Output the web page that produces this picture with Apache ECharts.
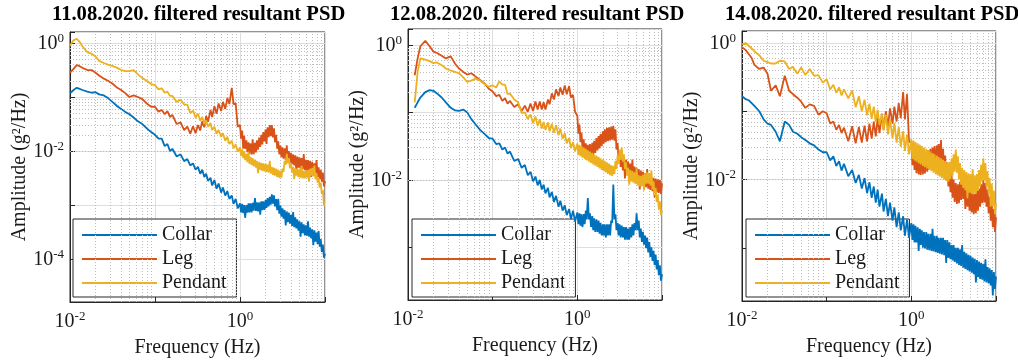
<!DOCTYPE html>
<html>
<head>
<meta charset="utf-8">
<title>filtered resultant PSD</title>
<script src="https://cdn.jsdelivr.net/npm/echarts@6/dist/echarts.min.js"></script>
<style>
	html, body { margin: 0; padding: 0; background: #fff; }
	#psdCharts { width: 1018px; height: 361px; }
</style>
</head>
<body>
<div id="psdCharts"></div>
<script>
// frequency grid (Hz), shared by the three panels; denser above 1 Hz where the spectra are noisy
var freqHz = [
	0.010, 0.011, 0.012, 0.013, 0.014, 0.016, 0.018, 0.020, 0.022, 0.025, 0.028, 0.032, 0.036, 0.040, 0.045, 0.050, 0.056, 0.063, 0.071, 0.080, 0.090,
	0.10, 0.11, 0.12, 0.13, 0.14, 0.15, 0.16, 0.18, 0.20, 0.22, 0.24, 0.26, 0.28, 0.30, 0.32, 0.34, 0.36, 0.38, 0.40, 0.42, 0.45, 0.47, 0.50, 0.53, 0.56, 0.60, 0.63, 0.67, 0.71, 0.75, 0.80, 0.84, 0.89, 0.94,
	1.0, 1.03, 1.06, 1.09, 1.12, 1.15, 1.19, 1.22, 1.26, 1.29, 1.33, 1.37, 1.41, 1.45, 1.5, 1.54, 1.58, 1.63, 1.68, 1.73, 1.78, 1.83, 1.88, 1.94, 2.0, 2.05, 2.11, 2.17, 2.24, 2.3,
	2.37, 2.44, 2.51, 2.58, 2.66, 2.74, 2.82, 2.9, 2.99, 3.07, 3.16, 3.25, 3.35, 3.45, 3.55, 3.65, 3.76, 3.87, 3.98, 4.1, 4.22, 4.34, 4.47, 4.6, 4.73, 4.87, 5.01, 5.16, 5.31, 5.46,
	5.62, 5.79, 5.96, 6.13, 6.31, 6.49, 6.68, 6.88, 7.08, 7.29, 7.5, 7.72, 7.94, 8.18, 8.41, 8.66, 8.91, 9.17, 9.44, 9.72, 10
];

// 11.08.2020 amplitude (g^2/Hz)
var p1Collar = [
	0.117, 0.135, 0.148, 0.141, 0.135, 0.126, 0.12, 0.123, 0.112, 0.107, 0.0955, 0.0794, 0.0676, 0.0603, 0.0525, 0.0479, 0.0417, 0.0355, 0.0316, 0.0263, 0.0224,
	0.02, 0.017, 0.017, 0.0123, 0.0135, 0.01, 0.011, 0.0079, 0.0087, 0.0065, 0.0071, 0.0054, 0.0059, 0.0045, 0.0051, 0.0038, 0.0045, 0.0033, 0.0038, 0.0028, 0.0032, 0.0023, 0.0029, 0.002, 0.0025, 0.0017, 0.0021, 0.0015, 0.0018, 0.0013, 0.0015, 0.00105, 0.0013, 0.00087,
	0.00107, 0.00073, 0.00105, 0.00071, 0.001, 0.00058, 0.001, 0.00072, 0.00107, 0.00073, 0.00107, 0.00073, 0.0011, 0.00079, 0.00135, 0.00078, 0.00112, 0.00076, 0.00112, 0.00066,
	0.00117, 0.0008, 0.00117, 0.00081, 0.00123, 0.00088, 0.00135, 0.00094, 0.00141, 0.00102, 0.00158, 0.00106, 0.00151, 0.00094, 0.00129, 0.0008, 0.0013, 0.00069, 0.00098, 0.00061,
	0.00087, 0.00056, 0.00081, 0.00042, 0.00076, 0.00048, 0.00072, 0.00045, 0.00066, 0.00041, 0.00074, 0.00039, 0.00059, 0.00037, 0.00054, 0.000335, 0.0005, 0.00026, 0.00048, 0.0003,
	0.00044, 0.000275, 0.00042, 0.00027, 0.0005, 0.00026, 0.00038, 0.00024, 0.000355, 0.00018, 0.00034, 0.00021, 0.00031, 0.00019, 0.00033, 0.00017, 0.000235, 0.000135, 0.000186, 0.000106, 0.000126
];
var p1Leg = [
	0.282, 0.331, 0.389, 0.372, 0.347, 0.316, 0.316, 0.282, 0.251, 0.219, 0.2, 0.174, 0.148, 0.135, 0.117, 0.1, 0.107, 0.1, 0.0912, 0.0759, 0.0661,
	0.0661, 0.0537, 0.0575, 0.0479, 0.055, 0.0427, 0.0468, 0.0316, 0.0339, 0.0245, 0.0282, 0.0209, 0.0288, 0.0214, 0.0302, 0.024, 0.0355, 0.0275, 0.0447, 0.0347, 0.0575, 0.0427, 0.0676, 0.049, 0.0759, 0.055, 0.0813, 0.0603, 0.0955, 0.0741, 0.148, 0.0741, 0.0759, 0.0282,
	0.0302, 0.017, 0.024, 0.011, 0.0191, 0.011, 0.0158, 0.0095, 0.0145, 0.0089, 0.0138, 0.0086, 0.0165, 0.0087, 0.0141, 0.0094, 0.0158, 0.0106, 0.0178, 0.0119,
	0.02, 0.0133, 0.0224, 0.015, 0.0251, 0.0135, 0.0275, 0.018, 0.0302, 0.0188, 0.0302, 0.0178, 0.0263, 0.0145, 0.02, 0.011, 0.0151, 0.0087, 0.0126, 0.0077,
	0.0117, 0.0072, 0.0112, 0.0068, 0.0128, 0.0065, 0.01, 0.0061, 0.0093, 0.0057, 0.0087, 0.0054, 0.0083, 0.0041, 0.0079, 0.0049, 0.0076, 0.0047, 0.0074, 0.0046,
	0.0088, 0.0044, 0.0069, 0.0043, 0.0068, 0.0042, 0.0066, 0.0033, 0.0063, 0.0038, 0.0059, 0.0036, 0.0068, 0.0033, 0.005, 0.003, 0.0045, 0.0027, 0.004, 0.0022, 0.0028
];
var p1Pendant = [
	0.891, 1.12, 1.2, 1.05, 0.871, 0.676, 0.631, 0.562, 0.468, 0.427, 0.398, 0.372, 0.347, 0.316, 0.302, 0.302, 0.316, 0.263, 0.224, 0.2, 0.174,
	0.166, 0.138, 0.145, 0.12, 0.126, 0.105, 0.105, 0.0813, 0.0891, 0.0724, 0.0724, 0.0501, 0.0562, 0.0417, 0.049, 0.0363, 0.0427, 0.0316, 0.0372, 0.0282, 0.0331, 0.0245, 0.0282, 0.0209, 0.0245, 0.0182, 0.0214, 0.0155, 0.0182, 0.0135, 0.0155, 0.0112, 0.0132, 0.0098,
	0.0117, 0.0081, 0.0107, 0.0074, 0.0098, 0.0068, 0.0089, 0.0062, 0.0098, 0.0058, 0.0078, 0.0055, 0.0074, 0.0052, 0.0069, 0.0049, 0.0066, 0.0039, 0.0063, 0.0045,
	0.006, 0.0043, 0.0059, 0.0042, 0.0058, 0.0041, 0.0056, 0.004, 0.0066, 0.0038, 0.0051, 0.0036, 0.0049, 0.0035, 0.0047, 0.0033, 0.0045, 0.0032, 0.0043, 0.0032,
	0.0047, 0.0041, 0.0066, 0.0056, 0.0089, 0.0059, 0.0074, 0.0048, 0.0059, 0.004, 0.0051, 0.003, 0.0049, 0.0035, 0.0047, 0.0033, 0.0045, 0.0032, 0.0053, 0.0031,
	0.0043, 0.0031, 0.0044, 0.0032, 0.0045, 0.0027, 0.0047, 0.0035, 0.0049, 0.0034, 0.0054, 0.003, 0.0039, 0.0026, 0.0032, 0.0021, 0.0026, 0.0016, 0.0019, 0.001, 0.001
];

// 12.08.2020
var p2Collar = [
	null, null, 0.117, 0.141, 0.166, 0.2, 0.214, 0.209, 0.191, 0.166, 0.141, 0.117, 0.107, 0.105, 0.11, 0.1, 0.0794, 0.0661, 0.055, 0.0479, 0.0417,
	0.0407, 0.0339, 0.0347, 0.0282, 0.0302, 0.0245, 0.0263, 0.0191, 0.0204, 0.0151, 0.0166, 0.0117, 0.0132, 0.0095, 0.0112, 0.0083, 0.01, 0.0072, 0.0085, 0.0063, 0.0076, 0.0055, 0.0066, 0.0047, 0.0058, 0.004, 0.0049, 0.0035, 0.0042, 0.003, 0.0037, 0.0026, 0.0035, 0.0024,
	0.0033, 0.0022, 0.0032, 0.0021, 0.0031, 0.002, 0.0031, 0.0022, 0.0035, 0.0026, 0.0054, 0.0026, 0.0032, 0.002, 0.0029, 0.0018, 0.0027, 0.0017, 0.0026, 0.0017,
	0.0025, 0.0016, 0.0023, 0.0015, 0.0022, 0.0015, 0.0022, 0.0014, 0.0022, 0.0015, 0.0022, 0.0015, 0.0025, 0.0023, 0.0085, 0.0026, 0.0031, 0.0018, 0.0023, 0.0015,
	0.0022, 0.0014, 0.0021, 0.0014, 0.002, 0.0013, 0.002, 0.0013, 0.0019, 0.0013, 0.002, 0.0014, 0.0022, 0.0015, 0.0023, 0.0018, 0.0032, 0.0018, 0.0025, 0.0014,
	0.0019, 0.0012, 0.0017, 0.0011, 0.0015, 0.00097, 0.0014, 0.00084, 0.0012, 0.00072, 0.001, 0.00063, 0.00089, 0.00055, 0.00078, 0.00047, 0.00065, 0.00039, 0.00054, 0.00032, 0.0004
];
var p2Leg = [
	null, null, 0.355, 0.631, 0.955, 1.15, 0.955, 0.794, 0.759, 0.692, 0.631, 0.676, 0.525, 0.447, 0.398, 0.363, 0.38, 0.339, 0.302, 0.269, 0.224,
	0.204, 0.174, 0.182, 0.148, 0.162, 0.135, 0.148, 0.12, 0.132, 0.105, 0.126, 0.102, 0.135, 0.105, 0.145, 0.11, 0.145, 0.11, 0.141, 0.11, 0.155, 0.132, 0.191, 0.155, 0.219, 0.174, 0.234, 0.182, 0.251, 0.186, 0.245, 0.166, 0.182, 0.102,
	0.0891, 0.0484, 0.0661, 0.0363, 0.0501, 0.0282, 0.0398, 0.0234, 0.0347, 0.0214, 0.0331, 0.0211, 0.0339, 0.0219, 0.0355, 0.0232, 0.038, 0.0251, 0.0417, 0.0272,
	0.0447, 0.0292, 0.0479, 0.0316, 0.0525, 0.0343, 0.0562, 0.0363, 0.0589, 0.0376, 0.0603, 0.0385, 0.0617, 0.0394, 0.0631, 0.038, 0.0562, 0.0282, 0.0355, 0.0193,
	0.0263, 0.0155, 0.0229, 0.0138, 0.0209, 0.0105, 0.02, 0.0122, 0.0186, 0.0114, 0.0174, 0.0107, 0.02, 0.0102, 0.0158, 0.0098, 0.0151, 0.0093, 0.0145, 0.0072,
	0.0138, 0.0085, 0.0132, 0.0081, 0.0126, 0.0078, 0.0145, 0.0074, 0.0115, 0.0071, 0.011, 0.0068, 0.0107, 0.0055, 0.0105, 0.0065, 0.0102, 0.0064, 0.01, 0.0062, 0.0089
];
var p2Pendant = [
	null, null, 0.141, 0.398, 0.631, 0.603, 0.575, 0.537, 0.55, 0.501, 0.447, 0.417, 0.398, 0.38, 0.331, 0.282, 0.295, 0.316, 0.295, 0.263, 0.24,
	0.251, 0.234, 0.288, 0.257, 0.257, 0.186, 0.191, 0.155, 0.141, 0.0977, 0.1, 0.0794, 0.0933, 0.0692, 0.0871, 0.0631, 0.0794, 0.0575, 0.0724, 0.055, 0.0708, 0.0525, 0.0676, 0.0501, 0.0646, 0.0457, 0.0575, 0.0407, 0.049, 0.0347, 0.0417, 0.0295, 0.0363, 0.0263,
	0.0347, 0.0234, 0.0331, 0.0224, 0.0316, 0.0214, 0.0302, 0.0204, 0.0288, 0.0195, 0.0275, 0.0186, 0.0263, 0.0178, 0.0251, 0.017, 0.024, 0.0162, 0.0229, 0.0155,
	0.0219, 0.0148, 0.0209, 0.0141, 0.02, 0.0135, 0.0191, 0.0129, 0.0182, 0.0123, 0.0174, 0.0117, 0.0166, 0.0114, 0.0162, 0.0122, 0.0191, 0.0145, 0.0229, 0.0172,
	0.0282, 0.0197, 0.0302, 0.0186, 0.024, 0.0145, 0.0182, 0.0115, 0.0151, 0.0085, 0.0141, 0.0095, 0.0135, 0.0091, 0.0129, 0.0087, 0.0148, 0.0083, 0.0117, 0.008,
	0.0115, 0.0081, 0.012, 0.007, 0.0126, 0.0088, 0.0129, 0.0088, 0.0126, 0.0083, 0.0138, 0.0072, 0.0095, 0.0059, 0.0076, 0.0047, 0.006, 0.0037, 0.0048, 0.003, 0.0035
];

// 14.08.2020
var p3Collar = [
	0.166, 0.151, 0.145, 0.132, 0.12, 0.1, 0.0759, 0.0661, 0.0631, 0.0501, 0.0363, 0.0708, 0.0631, 0.0501, 0.0468, 0.0417, 0.038, 0.0339, 0.0316, 0.0275, 0.0251,
	0.0251, 0.0191, 0.0219, 0.0158, 0.0186, 0.0135, 0.017, 0.0112, 0.0138, 0.0089, 0.0117, 0.0074, 0.0105, 0.0063, 0.0091, 0.0054, 0.0079, 0.0046, 0.0071, 0.004, 0.0062, 0.0034, 0.0052, 0.0029, 0.0046, 0.0025, 0.0039, 0.002, 0.0033, 0.0018, 0.0029, 0.0015, 0.0026, 0.0014,
	0.0023, 0.0013, 0.0022, 0.0012, 0.0021, 0.0012, 0.002, 0.0009, 0.0019, 0.0011, 0.0018, 0.001, 0.0017, 0.00098, 0.0017, 0.00094, 0.0016, 0.00092, 0.0016, 0.0009,
	0.0019, 0.00088, 0.0015, 0.00086, 0.0015, 0.00084, 0.0014, 0.00082, 0.0014, 0.0008, 0.0014, 0.00078, 0.0013, 0.0006, 0.0013, 0.00071, 0.0012, 0.00068, 0.0011, 0.00065,
	0.0011, 0.00062, 0.001, 0.00059, 0.001, 0.00056, 0.00095, 0.00054, 0.0011, 0.00051, 0.00087, 0.00049, 0.00083, 0.00047, 0.00079, 0.00045, 0.00076, 0.00043, 0.00072, 0.00041,
	0.00069, 0.00031, 0.00066, 0.00037, 0.00063, 0.00035, 0.0006, 0.00034, 0.00058, 0.00032, 0.00068, 0.00031, 0.00052, 0.0003, 0.0005, 0.00028, 0.00047, 0.0002, 0.00044, 0.00025, 0.00038
];
var p3Leg = [
	0.871, 0.794, 0.692, 0.603, 0.479, 0.417, 0.437, 0.355, 0.2, 0.24, 0.166, 0.331, 0.2, 0.178, 0.158, 0.138, 0.112, 0.126, 0.12, 0.0891, 0.1,
	0.0933, 0.0661, 0.0708, 0.0537, 0.0631, 0.0479, 0.0575, 0.0363, 0.0603, 0.0339, 0.0589, 0.0347, 0.0617, 0.0363, 0.0661, 0.0398, 0.0708, 0.0427, 0.0794, 0.0479, 0.0891, 0.0537, 0.1, 0.0603, 0.11, 0.0661, 0.117, 0.0708, 0.132, 0.0794, 0.191, 0.0759, 0.178, 0.0355,
	0.0355, 0.0162, 0.0295, 0.0138, 0.0257, 0.0124, 0.024, 0.0119, 0.0234, 0.0117, 0.0234, 0.0119, 0.024, 0.0123, 0.0251, 0.013, 0.0269, 0.0138, 0.0282, 0.0145,
	0.0295, 0.0151, 0.0309, 0.0157, 0.0316, 0.0162, 0.0331, 0.0168, 0.038, 0.0155, 0.0282, 0.0126, 0.0224, 0.01, 0.0178, 0.0079, 0.0141, 0.0065, 0.0117, 0.0054,
	0.01, 0.0047, 0.0089, 0.0044, 0.0085, 0.0045, 0.0093, 0.005, 0.0112, 0.0052, 0.01, 0.0037, 0.0085, 0.004, 0.0074, 0.0035, 0.0068, 0.0033, 0.0063, 0.0031,
	0.0062, 0.0032, 0.0082, 0.0035, 0.0074, 0.004, 0.0085, 0.0045, 0.0098, 0.0046, 0.0089, 0.004, 0.0071, 0.0032, 0.0056, 0.0025, 0.0045, 0.002, 0.0037, 0.0017, 0.0028
];
var p3Pendant = [
	0.955, 1.0, 0.912, 0.832, 0.759, 0.661, 0.55, 0.525, 0.501, 0.501, 0.55, 0.537, 0.417, 0.447, 0.355, 0.437, 0.339, 0.417, 0.331, 0.339, 0.263,
	0.295, 0.209, 0.245, 0.186, 0.224, 0.17, 0.209, 0.155, 0.2, 0.115, 0.166, 0.1, 0.148, 0.0871, 0.129, 0.0776, 0.117, 0.0692, 0.105, 0.0631, 0.0933, 0.0525, 0.0891, 0.0457, 0.0776, 0.0398, 0.0676, 0.0347, 0.0589, 0.0302, 0.0513, 0.0263, 0.0457, 0.0234,
	0.0389, 0.02, 0.0372, 0.0191, 0.0355, 0.0182, 0.0339, 0.0174, 0.0324, 0.0166, 0.0309, 0.0158, 0.0295, 0.0151, 0.0282, 0.0145, 0.0269, 0.0138, 0.0257, 0.0132,
	0.0245, 0.0126, 0.0234, 0.012, 0.0224, 0.0115, 0.0214, 0.011, 0.0204, 0.0105, 0.0195, 0.01, 0.0186, 0.0095, 0.0178, 0.0093, 0.0182, 0.0101, 0.0204, 0.0115,
	0.0234, 0.013, 0.0275, 0.0126, 0.0219, 0.0102, 0.0174, 0.0084, 0.0148, 0.0075, 0.0138, 0.007, 0.0129, 0.0053, 0.0123, 0.0064, 0.012, 0.0062, 0.0142, 0.0061,
	0.0115, 0.0062, 0.012, 0.0068, 0.0138, 0.0079, 0.0166, 0.0094, 0.0204, 0.0097, 0.0174, 0.0079, 0.0132, 0.0062, 0.0105, 0.004, 0.0087, 0.0041, 0.0069, 0.0031, 0.0045
];

var panelTitles = ['11.08.2020. filtered resultant PSD', '12.08.2020. filtered resultant PSD', '14.08.2020. filtered resultant PSD'];
var seriesNames = ['Collar', 'Leg', 'Pendant'];
var panelData = [[p1Collar, p1Leg, p1Pendant], [p2Collar, p2Leg, p2Pendant], [p3Collar, p3Leg, p3Pendant]];
// exponents that carry a tick label
var xTickExp = [-2, 0];
var yTickExp = [[-4, -2, 0], [-2, 0], [-2, 0]];
var xLimits = [0.01, 10];
var yLimits = [[1.6e-5, 1.6], [1.66e-4, 1.72], [1.66e-4, 1.5]];

// layout (px)
var grids = [
	{left: 70, top: 32, width: 255, height: 270},
	{left: 408, top: 29, width: 254, height: 271},
	{left: 742, top: 31, width: 254, height: 270}
];
var legendPos = [[73, 219], [412, 219], [746, 219]];
var titlePos = [52, 390, 725];

var colors = ['#0072BD', '#D95319', '#EDB120'];
var serif = '"Liberation Serif", "Times New Roman", serif';
var inkColor = '#1a1a1a';

function makePairs(vals) {
	var out = [];
	for(var i = 0; i < freqHz.length; i++) {
		if(vals[i] != null) out.push([freqHz[i], vals[i]]);
	}
	return out;
}

//只显示指定的 10^n 刻度
function expLabel(list) {
	return function(v) {
		var lg = Math.log10(v);
		var e = Math.round(lg);
		if(Math.abs(lg - e) > 1e-6 || list.indexOf(e) < 0) return '';
		return '{b|10}{s|' + e + '}';
	};
}

// 2..9 x 10^k inside (lo, hi), for the dotted minor grid
function minorValues(lo, hi) {
	var out = [];
	for(var k = Math.floor(Math.log10(lo)); k <= Math.ceil(Math.log10(hi)); k++) {
		for(var m = 2; m <= 9; m++) {
			var v = m * Math.pow(10, k);
			if(v > lo && v < hi) out.push(v);
		}
	}
	return out;
}

var labelRich = {
	b: {fontFamily: serif, fontSize: 20, color: inkColor, lineHeight: 22, verticalAlign: 'bottom'},
	s: {fontFamily: serif, fontSize: 13, color: inkColor, lineHeight: 14, verticalAlign: 'top'}
};

var option = {
	animation: false,
	backgroundColor: '#fff',
	title: [],
	legend: [],
	grid: [],
	xAxis: [],
	yAxis: [],
	series: []
};

for(var p = 0; p < 3; p++) {
	option.title.push({
		text: panelTitles[p],
		left: titlePos[p],
		top: 4,
		padding: 0,
		textStyle: {fontFamily: serif, fontSize: 20.6, fontWeight: 'bold', color: '#000'}
	});
	option.grid.push({
		left: grids[p].left,
		top: grids[p].top,
		width: grids[p].width,
		height: grids[p].height,
		containLabel: false,
		outerBoundsMode: 'none',
		show: true,
		backgroundColor: '#fff',
		borderColor: '#262626',
		borderWidth: 1
	});
	option.xAxis.push({
		type: 'log',
		logBase: 10,
		gridIndex: p,
		min: xLimits[0],
		max: xLimits[1],
		name: 'Frequency (Hz)',
		nameLocation: 'middle',
		nameGap: 36,
		nameTextStyle: {fontFamily: serif, fontSize: 20, color: inkColor},
		axisLine: {show: true, lineStyle: {color: '#262626'}},
		axisTick: {show: true, inside: true, length: 5, lineStyle: {color: '#262626'}},
		splitLine: {show: true, lineStyle: {color: '#dedede', width: 1}},
		axisLabel: {formatter: expLabel(xTickExp), margin: 8, rich: labelRich}
	});
	option.yAxis.push({
		type: 'log',
		logBase: 10,
		gridIndex: p,
		min: yLimits[p][0],
		max: yLimits[p][1],
		name: 'Amplitude (g²/Hz)',
		nameLocation: 'middle',
		nameGap: 40,
		nameTextStyle: {fontFamily: serif, fontSize: 20, color: inkColor},
		axisLine: {show: true, lineStyle: {color: '#262626'}},
		axisTick: {show: true, inside: true, length: 5, lineStyle: {color: '#262626'}},
		splitLine: {show: true, lineStyle: {color: '#dedede', width: 1}},
		axisLabel: {formatter: expLabel(yTickExp[p]), margin: 6, rich: labelRich}
	});

	var minorMarks = [];
	minorValues(xLimits[0], xLimits[1]).forEach(function(v) { minorMarks.push({xAxis: v}); });
	minorValues(yLimits[p][0], yLimits[p][1]).forEach(function(v) { minorMarks.push({yAxis: v}); });
	option.series.push({
		type: 'line',
		name: 'minor grid',
		xAxisIndex: p,
		yAxisIndex: p,
		data: [],
		silent: true,
		z: 1,
		markLine: {
			silent: true,
			symbol: ['none', 'none'],
			label: {show: false},
			lineStyle: {color: '#bdbdbd', type: [1, 2], width: 1},
			emphasis: {disabled: true},
			data: minorMarks
		}
	});

	for(var s = 0; s < 3; s++) {
		option.series.push({
			type: 'line',
			name: seriesNames[s],
			xAxisIndex: p,
			yAxisIndex: p,
			data: makePairs(panelData[p][s]),
			symbol: 'none',
			showSymbol: false,
			z: 10 + s,
			color: colors[s],
			lineStyle: {color: colors[s], width: 1.8},
			emphasis: {disabled: true}
		});
	}

	option.legend.push({
		data: seriesNames,
		orient: 'vertical',
		left: legendPos[p][0],
		top: legendPos[p][1],
		padding: [6, 10, 4, 9],
		itemGap: 4,
		itemWidth: 75,
		itemHeight: 2,
		icon: 'rect',
		selectedMode: false,
		backgroundColor: '#fff',
		borderColor: '#262626',
		borderWidth: 1,
		borderRadius: 0,
		textStyle: {fontFamily: serif, fontSize: 20, lineHeight: 20, color: inkColor}
	});
}

var myChart = echarts.init(document.getElementById('psdCharts'), null, {renderer: 'canvas'});
myChart.setOption(option);
</script>
</body>
</html>
